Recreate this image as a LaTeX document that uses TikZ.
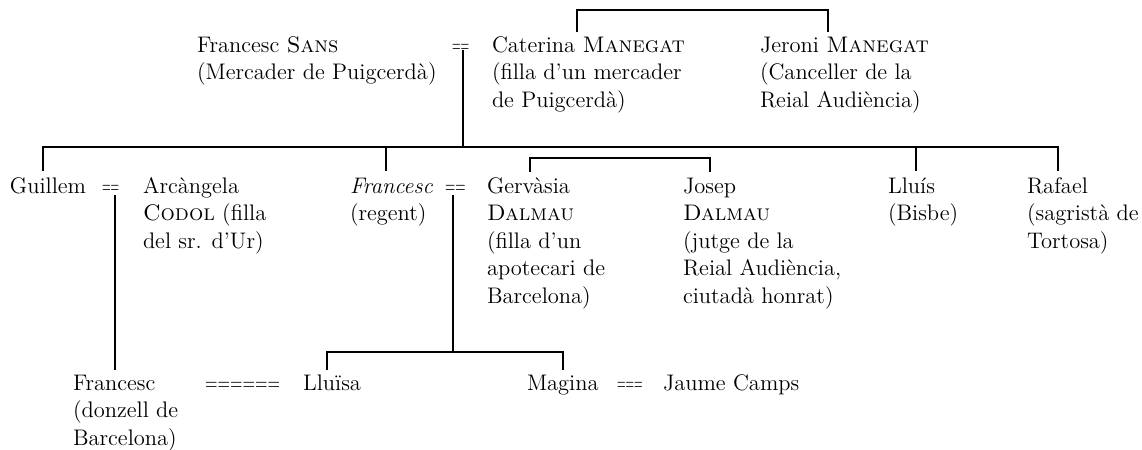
\documentclass[tikz,border=0pt]{standalone}
\usepackage{fontspec}
\usepackage{graphicx}
\usetikzlibrary{calc}
\newcommand{\stackt}[1]{\begin{tabular}[t]{@{}l@{}}#1\end{tabular}}
\newcommand{\eqs}[2]{\scalebox{#1}[1]{#2}}
\tikzset{
  person/.style={anchor=base west, inner sep=0pt, outer sep=0pt, font=\fontsize{11.25}{13.75}\selectfont},
  marriage/.style={anchor=base west, inner sep=0pt, outer sep=0pt, font=\fontsize{11.25}{13.75}\selectfont},
  link/.style={line width=0.8pt}
}
\begin{document}
\begin{tikzpicture}[x=0.5pt,y=-0.5pt]
\useasboundingbox (0,0) rectangle (1142,450);
% row 1
\node[person] (FS) at (197,52) {\stackt{Francesc \textsc{Sans}\\(Mercader de Puigcerdà)}};
\node[marriage] (eqA) at (452,52) {\eqs{0.5}{==}};
\node[person] (CM) at (492,52) {\stackt{Caterina \textsc{Manegat}\\(filla d’un mercader\\de Puigcerdà)}};
\node[person] (JM) at (760,52) {\stackt{Jeroni \textsc{Manegat}\\(Canceller de la\\Reial Audiència)}};
% row 2
\node[person] (G) at (10,193) {Guillem};
\node[marriage] (eqB) at (102,193) {\eqs{0.5}{==}};
\node[person] (AC) at (143,193) {\stackt{Arcàngela\\\textsc{Codol} (filla\\del sr. d’Ur)}};
\node[person] (FR) at (350,193) {\stackt{\textit{Francesc}\\(regent)}};
\node[marriage] (eqC) at (445,193) {\eqs{0.6}{==}};
\node[person] (GD) at (487,193) {\stackt{Gervàsia\\\textsc{Dalmau}\\(filla d’un\\apotecari de\\Barcelona)}};
\node[person] (JD) at (683,193) {\stackt{Josep\\\textsc{Dalmau}\\(jutge de la\\Reial Audiència,\\ciutadà honrat)}};
\node[person] (LL) at (888,193) {\stackt{Lluís\\(Bisbe)}};
\node[person] (RA) at (1027,193) {\stackt{Rafael\\(sagristà de\\Tortosa)}};
% row 3
\node[person] (FD) at (73,390) {\stackt{Francesc\\(donzell de\\Barcelona)}};
\node[marriage] (eqD) at (205,390) {\eqs{0.73}{======}};
\node[person] (LU) at (303,390) {Lluïsa};
\node[person] (MA) at (527,390) {Magina};
\node[marriage] (eqE) at (617,390) {\eqs{0.5}{===}};
\node[person] (JC) at (663,390) {Jaume Camps};
% coordinates
\coordinate (cmTop) at ($(CM.base west)+(85,-20)$);
\coordinate (jmTop) at ($(JM.base west)+(68,-20)$);
\coordinate (hA) at (463,147);
\coordinate (gTop) at ($(G.base west)+(33,-22)$);
\coordinate (fTop) at ($(FR.base west)+(36,-22)$);
\coordinate (lTop) at ($(LL.base west)+(28,-22)$);
\coordinate (rTop) at ($(RA.base west)+(31,-22)$);
\coordinate (gdTop) at ($(GD.base west)+(43,-21)$);
\coordinate (jdTop) at ($(JD.base west)+(27,-21)$);
\coordinate (fdTop) at ($(FD.base west)+(42,-20)$);
\coordinate (luTop) at ($(LU.base west)+(24,-20)$);
\coordinate (maTop) at ($(MA.base west)+(36,-20)$);
\coordinate (hB) at (453,352);
% connectors
\draw[link] (cmTop) -- ++(0,-22) -| (jmTop);
\draw[link] ($(eqA.base west)+(11,-2)$) -- (hA);
\draw[link] (gTop) |- (rTop |- hA) -- (rTop);
\draw[link] (fTop) -- (fTop |- hA);
\draw[link] (lTop) -- (lTop |- hA);
\draw[link] (gdTop) -- ++(0,-14) -| (jdTop);
\draw[link] ($(eqB.base west)+(13,2)$) -- (fdTop);
\draw[link] ($(eqC.base west)+(8,2)$) -- (hB);
\draw[link] (luTop) |- (hB) -| (maTop);
\end{tikzpicture}
\end{document}
